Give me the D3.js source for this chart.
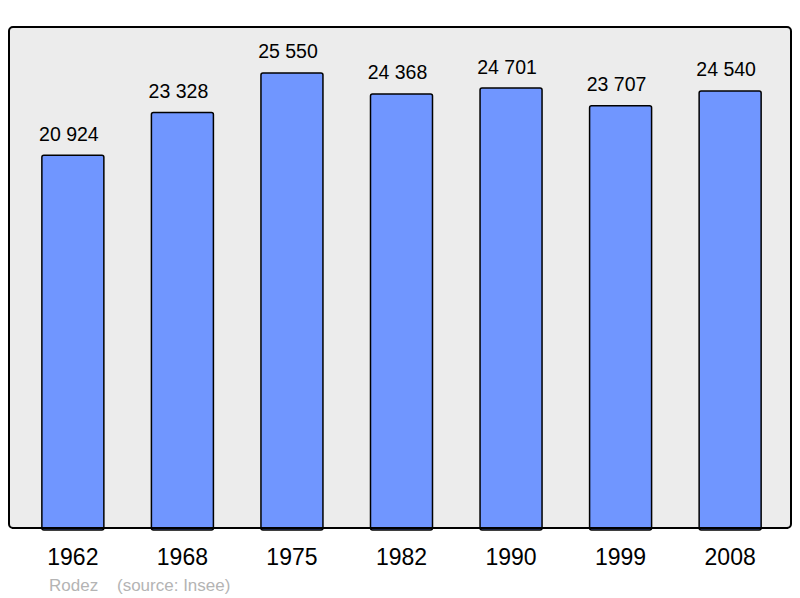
<!DOCTYPE html>
<html>
<head>
<meta charset="utf-8">
<script src="https://cdn.jsdelivr.net/npm/d3@7"></script>
<style>
  body { margin: 0; background: #fff; }
  svg { display: block; font-family: "Liberation Sans", Arial, sans-serif; }
</style>
</head>
<body>
<svg id="chart"></svg>
<script>
// population data (Insee)
const years = ['1962', '1968', '1975', '1982', '1990', '1999', '2008'];
const population = [20924, 23328, 25550, 24368, 24701, 23707, 24540];
const townName = 'Rodez';
const sourceText = '(source: Insee)';

const width = 800, height = 598;
const panel = { left: 9, top: 27, right: 791, bottom: 528 };

const svg = d3.select('#chart')
    .attr('width', width)
    .attr('height', height);

// background panel
svg.append('rect')
    .attr('x', panel.left)
    .attr('y', panel.top)
    .attr('width', panel.right - panel.left)
    .attr('height', panel.bottom - panel.top)
    .attr('rx', 4)
    .style('fill', '#ececec')
    .style('stroke', '#000')
    .style('stroke-width', 2);

const x = d3.scaleBand()
    .domain(years)
    .range([9, 794])
    .paddingInner(0.434)
    .paddingOuter(0.3);

const y = d3.scaleLinear()
    .domain([0, 28000])
    .range([panel.bottom, 29.3]);

const data = years.map((yr, i) => ({ year: yr, value: population[i] }));

// bars
svg.selectAll('rect.bar')
    .data(data)
    .enter()
    .append('rect')
    .attr('class', 'bar')
    .attr('x', d => x(d.year))
    .attr('y', d => y(d.value))
    .attr('width', x.bandwidth())
    .attr('height', d => panel.bottom - y(d.value) + 2)
    .attr('rx', 2)
    .style('fill', '#7096ff')
    .style('stroke', '#000')
    .style('stroke-width', 1.5);

// redraw bottom edge of panel over bars
svg.append('line')
    .attr('x1', panel.left + 3)
    .attr('x2', panel.right - 3)
    .attr('y1', panel.bottom)
    .attr('y2', panel.bottom)
    .style('stroke', '#000')
    .style('stroke-width', 2);

// value labels (sit a little left of bar centre in the original)
const fmt = v => d3.format(',')(v).replace(',', ' ');
svg.selectAll('text.value')
    .data(data)
    .enter()
    .append('text')
    .attr('class', 'value')
    .attr('x', d => x(d.year) + x.bandwidth() / 2 - 4)
    .attr('y', d => y(d.value) - 14.5)
    .attr('text-anchor', 'middle')
    .style('font-size', '19.5px')
    .style('fill', '#000')
    .text(d => fmt(d.value));

// year labels
svg.selectAll('text.year')
    .data(data)
    .enter()
    .append('text')
    .attr('class', 'year')
    .attr('x', d => x(d.year) + x.bandwidth() / 2)
    .attr('y', 565)
    .attr('text-anchor', 'middle')
    .style('font-size', '23px')
    .style('fill', '#000')
    .text(d => d.year);

// footer
svg.append('text')
    .attr('x', 49)
    .attr('y', 590.5)
    .style('font-size', '17px')
    .style('fill', '#b4b4b4')
    .text(townName);

svg.append('text')
    .attr('x', 117)
    .attr('y', 590.5)
    .style('font-size', '17px')
    .style('fill', '#b4b4b4')
    .text(sourceText);
</script>
</body>
</html>
